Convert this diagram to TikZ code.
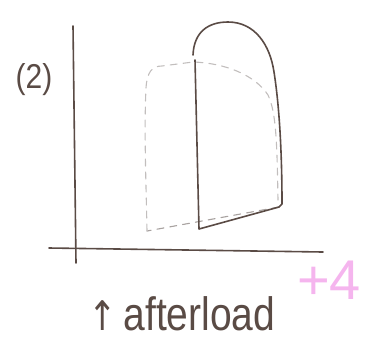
\documentclass[tikz,border=0pt]{standalone}
\usepackage{fontspec}
\setmainfont{Liberation Sans}
\newfontfamily\arrowfont{DejaVu Sans}
\begin{document}
\begin{tikzpicture}[x=1pt,y=-1pt,
  pen/.style={draw=ink,line width=1.6pt,line cap=round,line join=round},
  ghost/.style={draw=ghostc,line width=1.1pt,dash pattern=on 7pt off 6pt,line cap=round},
  hand/.style={text=ink,inner sep=0pt}]
\definecolor{ink}{HTML}{5A4B45}
\definecolor{ghostc}{HTML}{A8A2A0}
\definecolor{pinkc}{HTML}{F5B5EE}
\useasboundingbox (0,0) rectangle (377,360);
% axes
\draw[pen] (73,26) -- (76,263);
\draw[pen] (49,248) -- (323,252);
% dashed (before) shape
\draw[ghost] (279,207) -- (147,231);
\draw[ghost,draw=ghostc!70] (147,231) .. controls (146,180) and (144,130) .. (146,88)
  .. controls (147,72) and (152,66) .. (162,66) -- (193,62)
  .. controls (225,63) and (255,75) .. (268,95)
  .. controls (276,112) and (277,140) .. (278,200);
% solid (after) shape
\draw[pen] (193,55) .. controls (194,32) and (208,22) .. (228,22)
  .. controls (255,22) and (270,45) .. (274,72)
  .. controls (280,110) and (282,160) .. (282,204)
  -- (279,207) -- (199,229) -- (195,60);
% labels
\node[hand,font=\fontsize{30}{30}\selectfont,yscale=1.15] (lab) at (34,80) {(2)};
\node[hand,font=\fontsize{39}{39}\selectfont,yscale=1.2,anchor=base] (txt) at (182,330) {{\arrowfont\fontsize{34}{34}\selectfont ↑}\,afterload};
\node[inner sep=0pt,text=pinkc,font=\fontsize{56}{56}\selectfont] (plus) at (329,280) {+4};
\end{tikzpicture}
\end{document}
